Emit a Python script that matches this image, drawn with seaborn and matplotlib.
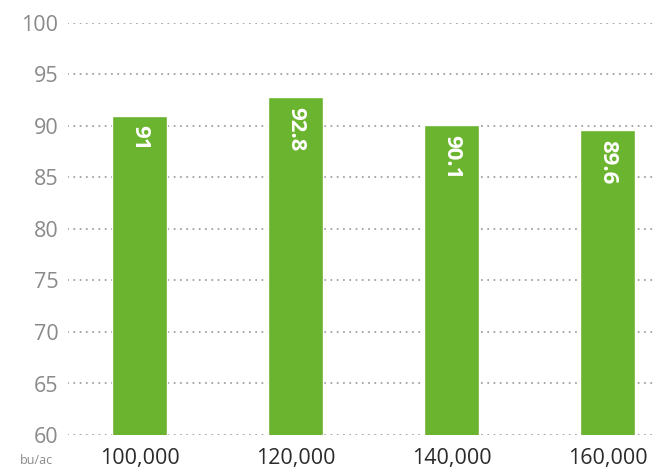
import matplotlib
matplotlib.use("Agg")
import matplotlib.pyplot as plt
import seaborn as sns
import pandas as pd

# Seeding rate (seeds/ac) vs. yield (bu/ac)
seeding_rates = ["100,000", "120,000", "140,000", "160,000"]
yields = [91, 92.8, 90.1, 89.6]
y_ticks = [60, 65, 70, 75, 80, 85, 90, 95, 100]

BAR_GREEN = "#6bb42f"
GRID_GRAY = "#a0a0a0"

sns.set_theme(style="white")
plt.rcParams["font.family"] = ["Open Sans", "DejaVu Sans"]

df = pd.DataFrame({"rate": seeding_rates, "yield": yields})

fig = plt.figure(figsize=(6.56, 4.69), dpi=100)
ax = fig.add_axes([68 / 656, 34 / 469, 588 / 656, 412 / 469])

# dotted horizontal guides behind the bars
for t in y_ticks:
    ax.axhline(t, color=GRID_GRAY, lw=1.5, ls=(0, (0.01, 3.0)), zorder=0,
               dash_capstyle="round")

sns.barplot(data=df, x="rate", y="yield", color=BAR_GREEN, width=0.353,
            saturation=1, ax=ax, zorder=2)

ax.set_ylim(60, 100)
ax.set_xlim(-0.458, 3.311)
ax.set_yticks(y_ticks)
ax.set_yticklabels([str(t) for t in y_ticks])
ax.set_xlabel("")
ax.set_ylabel("")
sns.despine(ax=ax, left=True, bottom=True)
ax.tick_params(axis="y", length=0, pad=7, labelsize=15.5, labelcolor="#8a8a8a")
ax.tick_params(axis="x", length=0, pad=9, labelsize=15.5, labelcolor="#2b2b2b")

# value labels, rotated, just inside the top of each bar
for i, v in enumerate(yields):
    ax.annotate(f"{v:g}", xy=(i, v), xytext=(0, -7), textcoords="offset points",
                rotation=-90, ha="center", va="top", color="white",
                fontsize=16, fontweight="bold", zorder=3)

fig.text(53 / 656, 1 - 460 / 469, "bu/ac", ha="right", va="center",
         fontsize=9, color="#8a8a8a")

fig.savefig("out.png", dpi=100)
